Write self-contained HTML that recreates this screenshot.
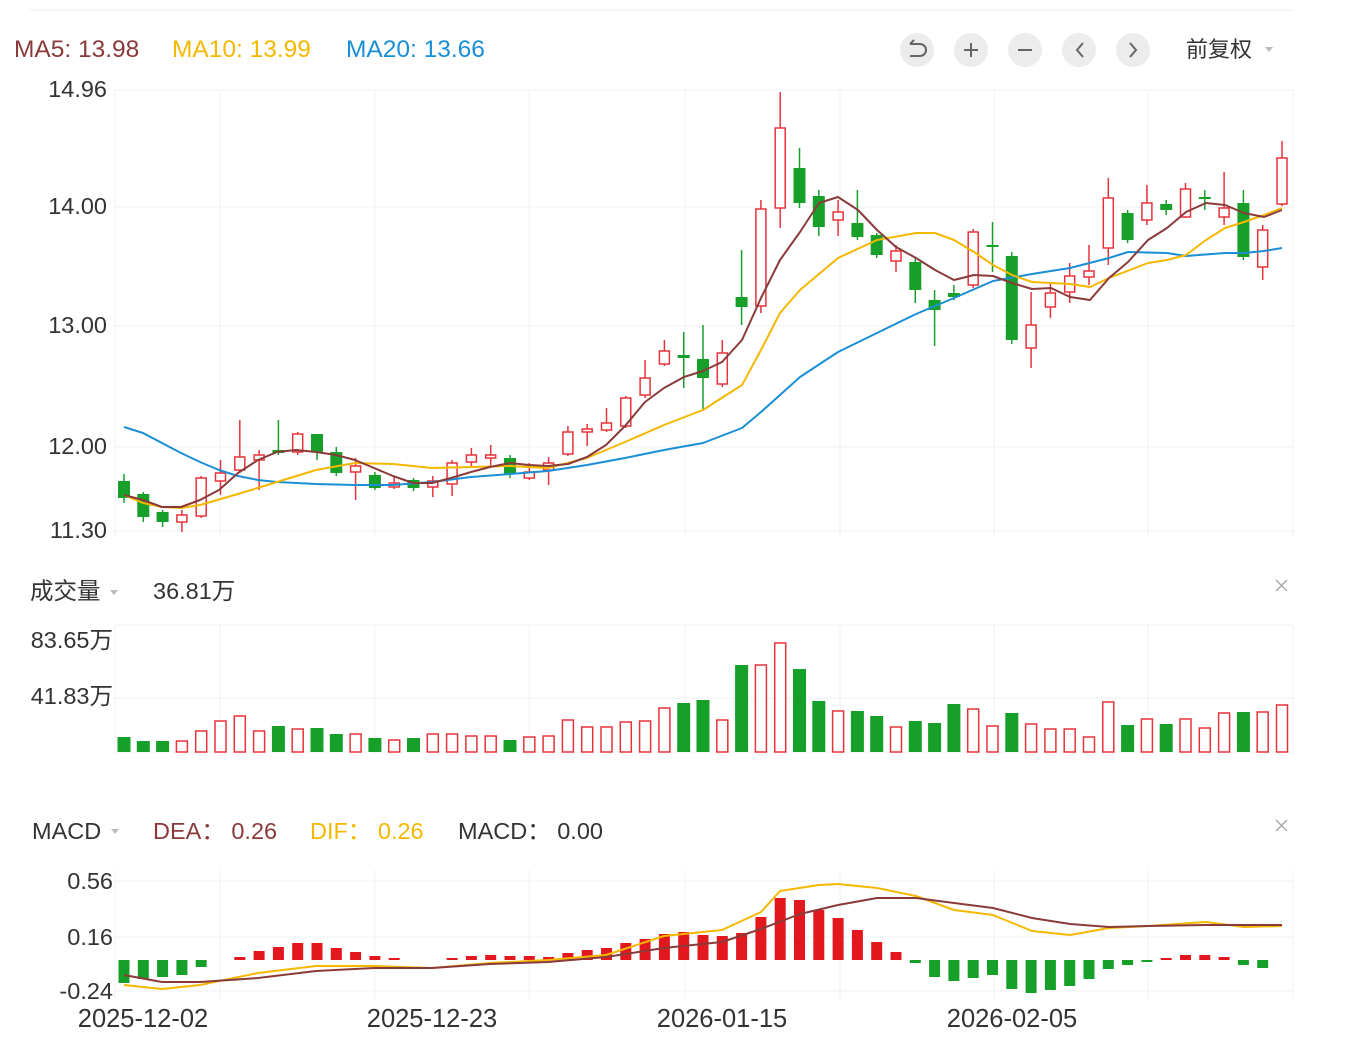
<!DOCTYPE html>
<html><head><meta charset="utf-8"><style>
html,body{margin:0;padding:0;background:#fff;}
body{width:1346px;height:1044px;overflow:hidden;font-family:"Liberation Sans","Noto Sans CJK SC",sans-serif;}
</style></head><body>
<svg id="s" width="1346" height="1044" xmlns="http://www.w3.org/2000/svg" font-family="Liberation Sans, Noto Sans CJK SC, sans-serif">
<line x1="30" y1="10" x2="1293" y2="10" stroke="#eee"/>
<text x="14" y="57" font-size="24.5" fill="#8b3a3a">MA5: 13.98</text>
<text x="172" y="57" font-size="24.5" fill="#f5b800">MA10: 13.99</text>
<text x="346" y="57" font-size="24.5" fill="#1a8fd6">MA20: 13.66</text>
<g fill="#ececec"><circle cx="917" cy="50" r="17"/><circle cx="971" cy="50" r="17"/><circle cx="1025" cy="50" r="17"/><circle cx="1079" cy="50" r="17"/><circle cx="1133" cy="50" r="17"/></g>
<g stroke="#666" stroke-width="2" fill="none">
<path d="M910 44 h10 a6 6 0 0 1 0 12 h-10 M910 44 l4 -4"/>
<path d="M964 50 h14 M971 43 v14"/><path d="M1018 50 h14"/>
<path d="M1083 43 l-6 7 6 7"/><path d="M1130 43 l6 7 -6 7"/></g>
<text x="1186" y="57" font-size="22" fill="#333">前复权</text>
<path d="M1265 47 l8 0 -4 5z" fill="#bbb"/>
<g id="grid" stroke="#eef0f3" stroke-width="1"></g>
<g font-size="23.5" fill="#333" text-anchor="end">
<text x="107" y="97">14.96</text><text x="107" y="214">14.00</text><text x="107" y="333">13.00</text><text x="107" y="454">12.00</text><text x="107" y="538">11.30</text>
<text x="113" y="648">83.65万</text><text x="113" y="704">41.83万</text>
<text x="113" y="889">0.56</text><text x="113" y="945">0.16</text><text x="113" y="999">-0.24</text>
</g>
<text x="30" y="599" font-size="23.5" fill="#333">成交量</text><path d="M110 590 l8 0 -4 5z" fill="#bbb"/>
<text x="153" y="599" font-size="23.5" fill="#333">36.81万</text>
<path d="M1276 580 l11 11 M1287 580 l-11 11" stroke="#aaa" stroke-width="1.5"/>
<text x="32" y="839" font-size="23.5" fill="#333">MACD</text><path d="M111 829 l8 0 -4 5z" fill="#bbb"/>
<text x="153" y="839" font-size="23.5" fill="#8b3a3a">DEA：  0.26</text>
<text x="310" y="839" font-size="23.5" fill="#f5b800">DIF：  0.26</text>
<text x="458" y="839" font-size="23.5" fill="#333">MACD：  0.00</text>
<path d="M1276 820 l11 11 M1287 820 l-11 11" stroke="#aaa" stroke-width="1.5"/>
<g font-size="25.5" fill="#333" text-anchor="middle">
<text x="143" y="1027">2025-12-02</text><text x="432" y="1027">2025-12-23</text><text x="722" y="1027">2026-01-15</text><text x="1012" y="1027">2026-02-05</text></g>
<g id="c"></g>
</svg>
<script>
var NS="http://www.w3.org/2000/svg",S=document.getElementById('c'),G=document.getElementById('grid');
function el(t,a,p){var e=document.createElementNS(NS,t);for(var k in a)e.setAttribute(k,a[k]);(p||S).appendChild(e);return e;}
[90,207,326,447,531,625,698,752,881,937,991].forEach(function(y){el('line',{x1:115,x2:1293,y1:y,y2:y},G);});
[[90,537],[625,755],[870,1000]].forEach(function(r){[115,220,375,529,685,840,994,1148,1293].forEach(function(x){el('line',{x1:x,x2:x,y1:r[0],y2:r[1]},G);});});
var RED="#e8323a",GRN="#16a02a";
var C=[
['g',481,498,474,503],['g',494,517,492,522],['g',512,522,510,527],['r',515,522,510,532],['r',478,516,476,518],['r',473,481,460,495],['r',457,470,420,473],['r',455,460,450,490],['g',450,453,420,455],['r',434,452,432,455],
['g',434,452,434,460],['g',452,473,447,476],['r',466,472,458,500],['g',475,488,472,490],['r',483,487,476,489],['g',480,488,478,491],['r',481,487,476,497],['r',463,484,460,496],['r',455,462,448,468],['r',455,458,445,466],
['g',458,474,455,478],['r',472,478,463,480],['r',463,470,457,485],['r',432,454,426,456],['r',429,432,424,446],['r',423,430,408,432],['r',398,426,396,428],['r',378,395,360,398],['r',351,364,340,366],['g',355,358,332,388],
['g',359,378,325,410],['r',353,384,340,387],['g',297,307,250,325],['r',209,306,200,313],['r',128,208,92,228],['g',168,203,148,208],['g',196,227,190,236],['r',212,220,200,236],['g',223,237,190,240],['g',235,255,233,258],
['r',251,261,245,272],['g',262,290,258,303],['g',300,310,290,346],['g',293,297,285,300],['r',232,285,229,288],['g',245,247,222,272],['g',256,340,252,344],['r',325,348,292,368],['r',293,307,283,318],['r',276,292,263,303],
['r',271,277,245,285],['r',198,248,178,265],['g',213,240,210,243],['r',203,220,185,225],['g',204,210,200,215],['r',189,217,183,218],['g',197,199,190,210],['r',208,217,172,225],['g',203,257,190,260],['r',230,267,225,280],['r',158,204,141,206]];
var V=[737,741,741,741,731,721,716,731,726,729,728,734,734,738,740,738,734,734,736,736,740,737,736,720,727,727,722,721,708,703,700,720,665,665,643,669,701,711,711,716,727,721,723,704,709,726,713,724,729,729,737,702,725,719,724,719,728,713,712,712,705];
var VC="gggrrrrrgrg"+"grgrg"+"rrrrg"+"rr"+"rrrrrr"+"ggrgrrggrggrgggrrgrrrrrgrgrrrgrr";
var M=[983,979,977,975,967,null,957,951,947,943,943,948,952,956,958,null,null,958,956,955,956,956,957,953,950,948,943,939,934,932,935,936,933,917,898,900,910,918,930,942,952,963,977,981,978,975,989,993,990,986,979,969,965,962,958,955,955,957,965,968,null];
function X(i){return 124+i*(1282-124)/60;}
C.forEach(function(c,i){var x=X(i),col=c[0]=='r'?RED:GRN;
 el('line',{x1:x,x2:x,y1:c[3],y2:c[1],stroke:col,'stroke-width':1.5});
 el('line',{x1:x,x2:x,y1:c[2],y2:c[4],stroke:col,'stroke-width':1.5});
 var h=Math.max(c[2]-c[1],2);
 if(c[0]=='r')el('rect',{x:x-5,y:c[1],width:10,height:h,fill:'#fff',stroke:col,'stroke-width':1.5});
 else el('rect',{x:x-6,y:c[1],width:12,height:h,fill:col});
 var vt=V[i],vc=VC[i]=='r'?RED:GRN;
 if(VC[i]=='r')el('rect',{x:x-5.5,y:vt,width:11,height:752-vt,fill:'#fff',stroke:vc,'stroke-width':1.5});
 else el('rect',{x:x-6.5,y:vt,width:13,height:752-vt,fill:vc});
 var m=M[i];if(m!=null){var z=960;el('rect',{x:x-5.5,y:Math.min(m,z),width:11,height:Math.abs(m-z),fill:m<z?'#e3181f':GRN});}
});
function line(p,col){el('polyline',{points:p.map(function(a){return a.join(',')}).join(' '),fill:'none',stroke:col,'stroke-width':2,'stroke-linejoin':'round'});}
line([[124,427],[143,433],[162,443],[181,453],[200,462],[219,470],[238,476],[258,480],[277,482],[316,484],[355,485],[393,485],[432,482],[471,477],[510,474],[548,471],[587,465],[625,458],[664,450],[703,443],[742,428],[761,412],[780,395],[800,377],[838,352],[877,333],[916,314],[954,298],[993,281],[1032,274],[1070,268],[1109,258],[1128,252],[1167,253],[1186,256],[1225,253],[1244,253],[1264,251],[1282,248]],'#1a8fd6');
line([[124,495],[143,503],[162,507],[181,508],[200,505],[238,494],[277,482],[316,470],[355,463],[393,464],[432,468],[471,467],[510,466],[548,468],[587,458],[625,442],[664,425],[703,410],[742,385],[761,350],[780,313],[800,290],[838,258],[877,240],[916,233],[935,233],[954,240],[974,252],[993,265],[1012,275],[1032,282],[1070,284],[1090,287],[1109,278],[1148,263],[1167,260],[1186,255],[1206,240],[1225,228],[1244,222],[1264,215],[1282,208]],'#f5b800');
line([[124,495],[143,500],[162,507],[181,507],[200,500],[219,490],[238,473],[258,460],[277,452],[296,450],[316,452],[336,455],[355,460],[374,468],[393,476],[413,483],[432,483],[451,478],[471,472],[490,467],[510,463],[529,465],[548,466],[568,464],[587,457],[606,445],[625,426],[645,402],[664,388],[684,377],[703,371],[722,362],[742,340],[761,298],[780,260],[800,232],[819,203],[838,197],[858,210],[877,230],[896,247],[916,258],[935,270],[954,280],[974,275],[993,276],[1012,283],[1032,289],[1051,288],[1070,297],[1090,300],[1109,278],[1128,262],[1148,240],[1167,228],[1186,212],[1206,203],[1225,205],[1244,213],[1264,217],[1282,210]],'#8b3a3a');
line([[124,985],[162,989],[200,985],[258,973],[316,966],[374,966],[432,968],[490,963],[548,960],[606,955],[664,936],[722,930],[761,912],[780,891],[819,885],[838,884],[877,888],[916,896],[954,910],[993,915],[1032,931],[1070,935],[1109,928],[1148,926],[1206,922],[1244,927],[1282,926]],'#f5b800');
line([[124,975],[162,982],[200,982],[258,978],[316,971],[374,968],[432,968],[490,964],[548,962],[606,957],[664,948],[722,942],[761,929],[800,914],[838,905],[877,898],[916,898],[954,903],[993,908],[1032,918],[1070,924],[1109,927],[1148,926],[1206,925],[1244,925],[1282,925]],'#8b3a3a');
</script>
</body></html>
